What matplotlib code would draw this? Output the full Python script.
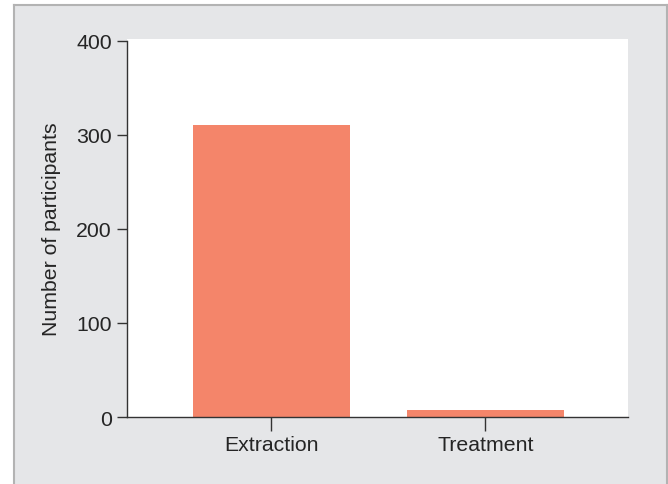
import matplotlib
matplotlib.use("Agg")
import matplotlib.pyplot as plt
from matplotlib.patches import Rectangle

categories = ["Extraction", "Treatment"]
values = [311, 7]
yticks = [0, 100, 200, 300, 400]

W, H = 668, 485
fig = plt.figure(figsize=(W / 100, H / 100), dpi=100)
fig.patch.set_facecolor("white")

# gray panel with border (left, top, right)
bg = Rectangle((13.5 / W, 0), (666.5 - 13.5) / W, (H - 5.5) / H,
               transform=fig.transFigure, facecolor="#e5e6e8",
               edgecolor="none", zorder=-10)
fig.add_artist(bg)
edge_kw = dict(transform=fig.transFigure, color="#b3b3b3", lw=1.5, zorder=-5)
fig.add_artist(plt.Line2D([13.5 / W, 13.5 / W], [0, (H - 5.5) / H], **edge_kw))
fig.add_artist(plt.Line2D([13.5 / W, 666.5 / W], [(H - 5.5) / H, (H - 5.5) / H], **edge_kw))
fig.add_artist(plt.Line2D([666.5 / W, 666.5 / W], [0, (H - 5.5) / H], **edge_kw))

ax_left, ax_right, ax_top, ax_bottom = 127, 628, 40, 418
ax = fig.add_axes([ax_left / W, 1 - ax_bottom / H, (ax_right - ax_left) / W, (ax_bottom - ax_top) / H])
ax.set_zorder(1)
ax.set_facecolor("white")

x = range(len(categories))
ax.bar(x, values, width=0.733, color="#f4856a", zorder=2)
ax.set_xlim(-0.675, 1.666)
ax.set_ylim(0, 402)
ax.set_yticks(yticks)
ax.set_xticks(list(x))
ax.set_xticklabels(categories)

for s in ["top", "right"]:
    ax.spines[s].set_visible(False)
for s in ["left", "bottom"]:
    ax.spines[s].set_color("#333333")
    ax.spines[s].set_linewidth(1.0)
ax.spines["left"].set_bounds(0, 400)

fs = 15.3
ax.tick_params(axis="y", direction="out", length=7, width=1, color="#333333",
               labelsize=fs, labelcolor="#252525", pad=4)
ax.tick_params(axis="x", direction="out", length=10, width=1, color="#333333",
               labelsize=fs, labelcolor="#252525", pad=3)
for lbl in ax.get_xticklabels() + ax.get_yticklabels():
    lbl.set_fontfamily("Liberation Sans")

ax.set_ylabel("Number of participants", fontsize=fs, color="#252525",
              fontfamily="Liberation Sans", labelpad=11)

fig.savefig("out.png", dpi=100, facecolor=fig.get_facecolor())
